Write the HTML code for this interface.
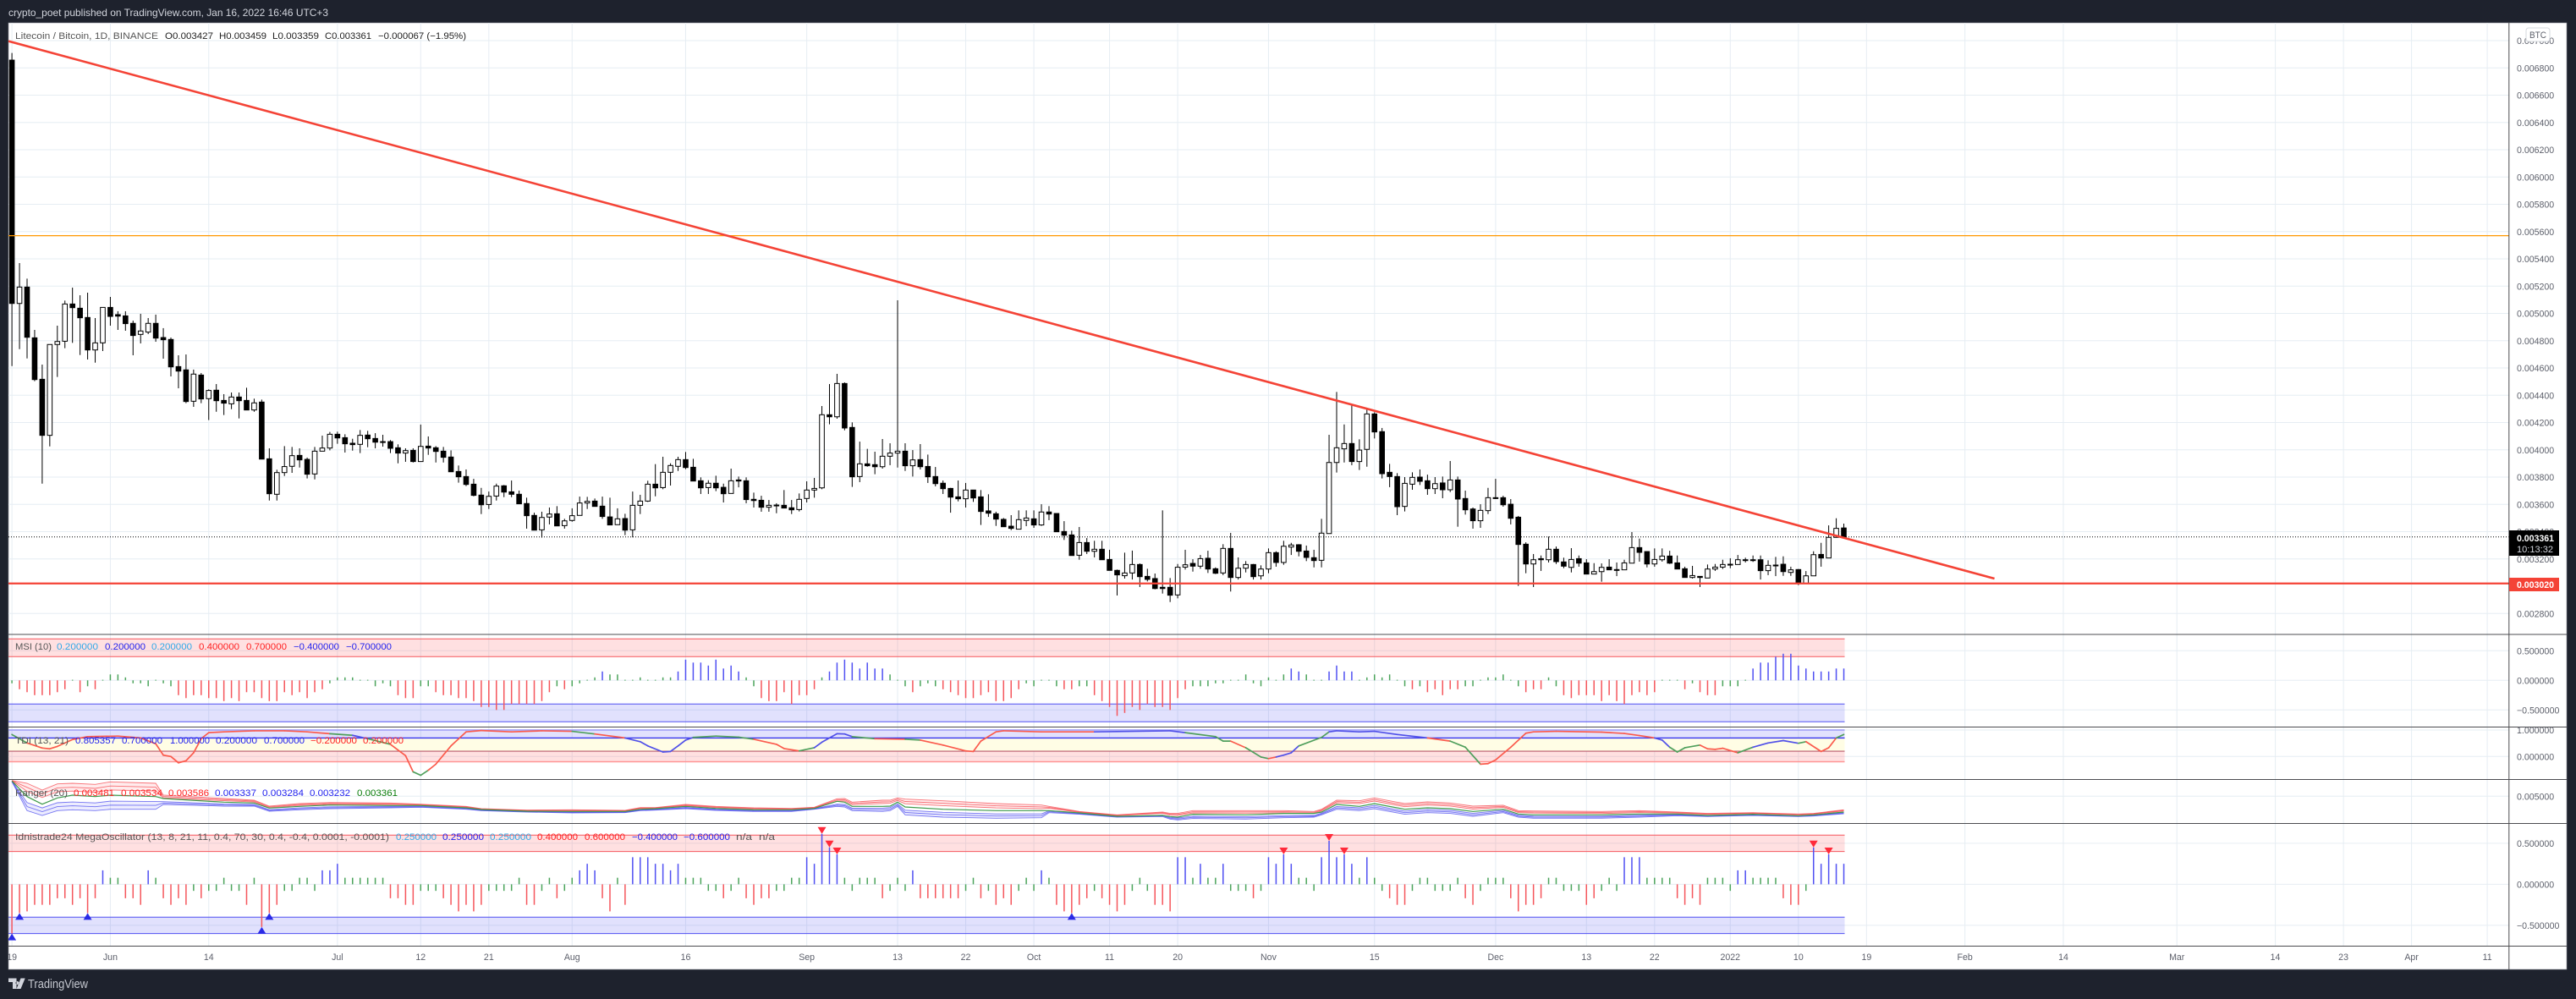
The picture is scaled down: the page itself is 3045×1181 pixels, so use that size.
<!DOCTYPE html>
<html lang="en">
<head>
<meta charset="utf-8">
<title>Litecoin / Bitcoin chart</title>
<style>
html,body{margin:0;padding:0;background:#1e222d;width:3045px;height:1181px;overflow:hidden}
svg{display:block}
text{font-family:"Liberation Sans",sans-serif;font-size:11px}
.axis{font-size:10.6px;fill:#5d606b}
.lg{font-size:11px;fill:#555}
.r{fill:#ff1f1f}.b{fill:#2222ee}.c{fill:#2fa8e8}.g{fill:#0a7d0a}.k{fill:#222}
</style>
</head>
<body>
<svg id="chart" xmlns="http://www.w3.org/2000/svg" width="3045" height="1181" viewBox="0 0 3045 1181">
  <defs>
    <clipPath id="plot"><rect x="10" y="27" width="2956" height="1091"/></clipPath>
    <clipPath id="timeclip"><rect x="10" y="1118" width="2956" height="28"/></clipPath>
  </defs>
  <rect width="3045" height="1181" fill="#1e222d"/>
  <text x="10" y="19" textLength="378" lengthAdjust="spacingAndGlyphs" font-size="12" style="font-size:12px" fill="#d1d4dc">crypto_poet published on TradingView.com, Jan 16, 2022 16:46 UTC+3</text>
  <rect x="10" y="27" width="3024" height="1119" fill="#ffffff" stroke="#8a8d96" stroke-width="0.6"/>
  <g id="grid"></g>
  <g id="plotGroup" clip-path="url(#plot)"></g>
  <g id="frame"></g>
  <g id="axisLabels"></g>

  <g>
    <text class="lg" x="18" y="46" textLength="169" lengthAdjust="spacingAndGlyphs">Litecoin / Bitcoin, 1D, BINANCE</text>
    <text class="lg k" x="195" y="46" textLength="57" lengthAdjust="spacingAndGlyphs">O0.003427</text>
    <text class="lg k" x="259" y="46" textLength="56" lengthAdjust="spacingAndGlyphs">H0.003459</text>
    <text class="lg k" x="322" y="46" textLength="55" lengthAdjust="spacingAndGlyphs">L0.003359</text>
    <text class="lg k" x="384" y="46" textLength="55" lengthAdjust="spacingAndGlyphs">C0.003361</text>
    <text class="lg k" x="447" y="46" textLength="104" lengthAdjust="spacingAndGlyphs">−0.000067 (−1.95%)</text>
  </g>
  <g>
    <text class="lg" x="18" y="768" textLength="43" lengthAdjust="spacingAndGlyphs">MSI (10)</text>
    <text class="lg c" x="67" y="768" textLength="49" lengthAdjust="spacingAndGlyphs">0.200000</text>
    <text class="lg b" x="124" y="768" textLength="48" lengthAdjust="spacingAndGlyphs">0.200000</text>
    <text class="lg c" x="179" y="768" textLength="48" lengthAdjust="spacingAndGlyphs">0.200000</text>
    <text class="lg r" x="235" y="768" textLength="48" lengthAdjust="spacingAndGlyphs">0.400000</text>
    <text class="lg r" x="291" y="768" textLength="48" lengthAdjust="spacingAndGlyphs">0.700000</text>
    <text class="lg b" x="347" y="768" textLength="54" lengthAdjust="spacingAndGlyphs">−0.400000</text>
    <text class="lg b" x="409" y="768" textLength="54" lengthAdjust="spacingAndGlyphs">−0.700000</text>
  </g>
  <g>
    <text class="lg" x="18" y="879" textLength="63" lengthAdjust="spacingAndGlyphs">TDI (13, 21)</text>
    <text class="lg b" x="89" y="879" textLength="48" lengthAdjust="spacingAndGlyphs">0.805357</text>
    <text class="lg b" x="144" y="879" textLength="48" lengthAdjust="spacingAndGlyphs">0.700000</text>
    <text class="lg b" x="201" y="879" textLength="47" lengthAdjust="spacingAndGlyphs">1.000000</text>
    <text class="lg b" x="255" y="879" textLength="49" lengthAdjust="spacingAndGlyphs">0.200000</text>
    <text class="lg b" x="312" y="879" textLength="48" lengthAdjust="spacingAndGlyphs">0.700000</text>
    <text class="lg r" x="367" y="879" textLength="55" lengthAdjust="spacingAndGlyphs">−0.200000</text>
    <text class="lg r" x="429" y="879" textLength="48" lengthAdjust="spacingAndGlyphs">0.200000</text>
  </g>
  <g>
    <text class="lg" x="18" y="941" textLength="62" lengthAdjust="spacingAndGlyphs">Ranger (20)</text>
    <text class="lg r" x="87" y="941" textLength="48" lengthAdjust="spacingAndGlyphs">0.003481</text>
    <text class="lg r" x="143" y="941" textLength="49" lengthAdjust="spacingAndGlyphs">0.003534</text>
    <text class="lg r" x="199" y="941" textLength="48" lengthAdjust="spacingAndGlyphs">0.003586</text>
    <text class="lg b" x="254" y="941" textLength="49" lengthAdjust="spacingAndGlyphs">0.003337</text>
    <text class="lg b" x="310" y="941" textLength="49" lengthAdjust="spacingAndGlyphs">0.003284</text>
    <text class="lg b" x="366" y="941" textLength="48" lengthAdjust="spacingAndGlyphs">0.003232</text>
    <text class="lg g" x="422" y="941" textLength="48" lengthAdjust="spacingAndGlyphs">0.003361</text>
  </g>
  <g>
    <text class="lg" x="18" y="993" textLength="442" lengthAdjust="spacingAndGlyphs">Idnistrade24 MegaOscillator (13, 8, 21, 11, 0.4, 70, 30, 0.4, -0.4, 0.0001, -0.0001)</text>
    <text class="lg c" x="468" y="993" textLength="48" lengthAdjust="spacingAndGlyphs">0.250000</text>
    <text class="lg b" x="523" y="993" textLength="49" lengthAdjust="spacingAndGlyphs">0.250000</text>
    <text class="lg c" x="579" y="993" textLength="49" lengthAdjust="spacingAndGlyphs">0.250000</text>
    <text class="lg r" x="635" y="993" textLength="48" lengthAdjust="spacingAndGlyphs">0.400000</text>
    <text class="lg r" x="691" y="993" textLength="48" lengthAdjust="spacingAndGlyphs">0.600000</text>
    <text class="lg b" x="747" y="993" textLength="54" lengthAdjust="spacingAndGlyphs">−0.400000</text>
    <text class="lg b" x="808" y="993" textLength="55" lengthAdjust="spacingAndGlyphs">−0.600000</text>
    <text class="lg" x="870" y="993" textLength="19" lengthAdjust="spacingAndGlyphs">n/a</text>
    <text class="lg" x="897" y="993" textLength="19" lengthAdjust="spacingAndGlyphs">n/a</text>
  </g>

  <g>
    <rect x="2986" y="33" width="28" height="16" rx="3" fill="#ffffff" stroke="#d6d8de" stroke-width="1"/>
    <text x="2990" y="45" textLength="20" lengthAdjust="spacingAndGlyphs" fill="#5d606b">BTC</text>
  </g>

  <g>
    <rect x="2966" y="627" width="59" height="30" fill="#000000"/>
    <text x="2975" y="640" fill="#ffffff" style="font-size:10.6px;font-weight:bold" textLength="44" lengthAdjust="spacingAndGlyphs">0.003361</text>
    <text x="2975" y="653" fill="#d1d4dc" style="font-size:10.6px" textLength="43" lengthAdjust="spacingAndGlyphs">10:13:32</text>
  </g>
  <g>
    <rect x="2966" y="683" width="59" height="16" fill="#f44336"/>
    <text x="2975" y="695" fill="#ffffff" style="font-size:10.6px;font-weight:bold" textLength="44" lengthAdjust="spacingAndGlyphs">0.003020</text>
  </g>

  <g>
    <path d="M10 1156.500h9.500v12.500h-4.500v-8h-5zM19.500 1169l5-12.500h5.200l-5.200 12.500z M20.500 1160a2 2 0 1 0 0.010 0z" fill="#d1d4dc"/>
    <text x="33" y="1168" textLength="71" lengthAdjust="spacingAndGlyphs" style="font-size:15px" fill="#c4c7cf">TradingView</text>
  </g>
</svg>

<script>
// Time axis
const tickLabels = ["19","Jun","14","Jul","12","21","Aug","16","Sep","13","22","Oct","11","20","Nov","15","Dec","13","22","2022","10","19","Feb","14","Mar","14","23","Apr","11"];
const tickDays = [0,13,26,43,54,63,74,89,105,117,126,135,145,154,166,180,196,208,217,227,236,245,258,271,286,299,308,317,327];
// Price axis ticks (millionths of BTC)
const priceTicks = [7000,6800,6600,6400,6200,6000,5800,5600,5400,5200,5000,4800,4600,4400,4200,4000,3800,3600,3400,3200,2800];
// Candles, millionths of BTC
const opens = [6857,5073,5193,4821,4517,4106,4772,4796,5069,5038,
4970,4732,4784,5044,4991,4982,4927,4846,4863,4927,
4823,4809,4610,4586,4356,4548,4375,4437,4362,4337,
4387,4362,4292,4350,3934,3674,3833,3879,3959,3930,
3823,3990,4013,4114,4089,4048,4040,4108,4083,4060,
4060,4015,3976,3996,3914,4027,4015,3990,3947,3841,
3804,3748,3668,3599,3661,3736,3692,3674,3606,3519,
3413,3507,3531,3444,3482,3519,3610,3624,3587,3508,
3451,3496,3413,3593,3624,3748,3723,3835,3879,3928,
3872,3773,3723,3755,3725,3680,3779,3773,3637,3630,
3579,3595,3593,3575,3562,3643,3705,3721,4257,4242,
4486,4164,3804,3897,3891,3876,3953,3976,3990,3883,
3928,3878,3804,3755,3717,3655,3641,3705,3655,3552,
3531,3490,3440,3418,3482,3494,3449,3544,3533,3401,
3376,3227,3320,3256,3271,3196,3116,3077,3097,3159,
3072,3056,2992,2992,2936,3140,3167,3147,3205,3128,
3097,3277,3064,3132,3159,3076,3126,3246,3174,3287,
3304,3258,3209,3190,3386,3907,4007,4046,3914,4003,
4263,4133,3835,3804,3585,3748,3800,3773,3715,3757,
3707,3779,3643,3566,3480,3554,3649,3649,3601,3506,
3308,3163,3202,3194,3271,3178,3138,3202,3171,3089,
3107,3140,3122,3120,3169,3283,3254,3163,3194,3221,
3171,3128,3064,3072,3060,3126,3140,3161,3159,3194,
3194,3194,3114,3155,3161,3101,3122,3021,3076,3233,
3207,3358,3427];
const closes = [5073,5193,4825,4515,4106,4772,4794,5069,5042,4968,
4732,4784,5044,4978,4980,4925,4838,4871,4927,4819,
4807,4608,4577,4354,4555,4373,4435,4360,4342,4387,
4360,4292,4344,3932,3678,3833,3877,3957,3926,3821,
3990,4013,4114,4087,4044,4038,4106,4081,4056,4054,
4011,3976,3994,3914,4025,4013,3988,3945,3839,3802,
3746,3666,3597,3659,3734,3690,3674,3604,3517,3411,
3504,3529,3442,3479,3517,3610,3622,3585,3511,3449,
3494,3411,3593,3624,3748,3721,3835,3885,3928,3870,
3771,3721,3755,3721,3678,3773,3771,3635,3628,3579,
3593,3591,3573,3560,3637,3705,3717,4257,4242,4486,
4160,3802,3897,3883,3876,3953,3976,3990,3883,3926,
3876,3802,3752,3715,3653,3641,3705,3647,3548,3535,
3492,3436,3424,3488,3500,3449,3544,3529,3399,3374,
3225,3320,3256,3271,3194,3116,3083,3097,3159,3070,
3050,2983,2983,2934,3139,3157,3147,3202,3126,3095,
3277,3064,3132,3159,3070,3126,3246,3174,3293,3302,
3256,3211,3188,3389,3907,4015,4046,3914,3998,4263,
4131,3825,3804,3583,3754,3798,3769,3715,3752,3707,
3779,3639,3560,3480,3556,3649,3645,3597,3498,3306,
3163,3194,3194,3271,3180,3147,3196,3169,3089,3107,
3138,3120,3120,3171,3283,3248,3163,3196,3221,3169,
3126,3064,3078,3064,3126,3140,3159,3159,3194,3192,
3192,3114,3153,3151,3107,3120,3021,3076,3231,3207,
3358,3424,3361];
const highs = [6909,5369,5255,4879,4625,4772,4910,5094,5189,5133,
5152,4966,5044,5121,5016,5016,4947,4997,4966,4991,
4892,4823,4693,4699,4588,4563,4443,4482,4408,4420,
4420,4455,4375,4368,4011,3854,4027,4021,4011,3943,
4021,4104,4131,4133,4114,4081,4145,4139,4122,4110,
4071,4040,4011,4011,4185,4098,4027,4021,3996,3885,
3856,3787,3721,3694,3752,3742,3775,3701,3649,3539,
3546,3577,3587,3494,3571,3657,3655,3643,3657,3649,
3571,3531,3694,3670,3773,3895,3949,3901,3949,3984,
3934,3798,3777,3810,3752,3862,3804,3798,3686,3663,
3632,3608,3705,3632,3680,3769,3794,4321,4482,4557,
4494,4201,4060,4007,3986,4079,4048,5096,4048,3998,
4042,3965,3874,3775,3721,3775,3757,3705,3705,3674,
3546,3500,3521,3556,3556,3556,3601,3587,3533,3477,
3407,3434,3353,3333,3333,3267,3122,3246,3261,3167,
3128,3093,3556,3060,3163,3267,3198,3229,3260,3138,
3308,3391,3211,3184,3163,3153,3277,3256,3333,3318,
3308,3298,3267,3494,4110,4424,4186,4327,4077,4300,
4275,4160,3897,3829,3800,3835,3856,3818,3800,3804,
3918,3804,3701,3577,3601,3721,3787,3663,3639,3515,
3322,3236,3225,3364,3291,3209,3279,3225,3198,3169,
3167,3198,3174,3194,3397,3349,3256,3277,3277,3260,
3225,3143,3149,3074,3159,3163,3194,3205,3229,3209,
3225,3225,3190,3215,3219,3143,3126,3111,3256,3318,
3446,3498,3459];
const lows = [4614,4738,4670,4503,3752,4025,4534,4745,4784,4695,
4662,4639,4724,4910,4879,4873,4693,4780,4848,4792,
4668,4538,4451,4342,4315,4342,4218,4279,4255,4298,
4230,4292,4279,3932,3628,3628,3808,3831,3870,3790,
3783,3990,3996,4044,3980,3994,3976,4019,4011,4023,
3976,3901,3912,3907,3914,3963,3907,3907,3839,3759,
3734,3659,3529,3566,3628,3653,3653,3604,3422,3411,
3356,3453,3442,3422,3473,3519,3566,3585,3494,3449,
3451,3374,3358,3529,3618,3659,3711,3738,3845,3858,
3771,3676,3676,3697,3614,3680,3725,3608,3577,3546,
3546,3535,3573,3529,3548,3614,3649,3711,4187,4228,
4143,3728,3763,3876,3821,3862,3887,3870,3845,3804,
3856,3757,3732,3676,3539,3622,3577,3618,3449,3508,
3442,3436,3411,3418,3440,3428,3442,3484,3399,3339,
3225,3194,3236,3211,3194,3116,2932,3056,3049,2994,
3035,2977,2946,2884,2911,3122,3107,3128,3097,3089,
3081,2961,3049,3101,3049,3049,3095,3143,3157,3229,
3219,3184,3138,3138,3386,3833,3907,3887,3852,3876,
4083,3790,3726,3521,3548,3707,3742,3670,3676,3645,
3690,3436,3525,3422,3428,3529,3639,3583,3453,3002,
3095,2994,3112,3174,3163,3132,3101,3143,3089,3089,
3033,3120,3074,3120,3169,3180,3138,3143,3180,3163,
3126,3064,3056,2994,3060,3112,3126,3132,3159,3174,
3178,3049,3081,3074,3076,3076,3008,3021,3076,3143,
3207,3358,3359];
// Reference levels
const resistanceLevel = 5570;
const supportLevel = 3020;
const lastClose = 3361;
const trendDays = [-0.46, 261.9];
const trendPrices = [6996, 3056];
// MSI histogram
const msiValues = [-.05,-.15,-.2,-.25,-.25,-.25,-.2,-.15,.01,-.2,
-.1,-.15,.01,.1,.1,.05,-.05,-.05,-.1,.01,
-.05,-.1,-.25,-.3,-.25,-.25,-.3,-.3,-.35,-.3,
-.35,-.2,-.2,-.3,-.35,-.35,-.2,-.25,-.2,-.3,
-.2,-.15,-.05,.05,.05,.05,.01,.01,-.1,-.05,
-.1,-.25,-.3,-.3,-.1,-.1,-.2,-.25,-.25,-.3,
-.3,-.35,-.45,-.45,-.5,-.5,-.4,-.4,-.4,-.4,
-.35,-.2,-.1,-.15,-.1,-.05,.01,.05,.15,.1,
.1,.01,.01,.05,.01,.01,.05,.05,.15,.35,
.3,.3,.25,.35,.2,.25,.15,.05,-.1,-.3,
-.35,-.35,-.2,-.4,-.25,-.25,-.15,.05,.15,.3,
.35,.3,.2,.3,.2,.2,.1,.01,-.1,-.2,
-.1,-.05,-.1,-.15,-.2,-.25,-.3,-.3,-.25,-.2,
-.35,-.35,-.3,-.15,-.05,-.1,.01,.01,-.1,-.15,
-.15,-.1,-.1,-.25,-.35,-.45,-.6,-.55,-.45,-.5,
-.4,-.45,-.45,-.5,-.3,-.15,-.1,-.1,-.1,-.05,
-.05,.01,.01,.1,-.05,-.1,.05,.01,.1,.2,
.15,.1,.01,.01,.15,.25,.15,.15,.01,.05,
.1,.05,.1,.01,-.1,-.15,-.1,-.2,-.15,-.25,
-.15,-.15,-.1,-.1,.01,.05,.05,.1,.01,-.1,
-.2,-.15,-.15,.05,-.1,-.25,-.3,-.25,-.25,-.25,
-.35,-.25,-.35,-.4,-.25,-.2,-.25,-.2,.01,.01,
.01,-.15,-.05,-.2,-.25,-.25,-.1,-.1,-.1,.01,
.2,.3,.3,.4,.45,.45,.25,.2,.15,.15,
.15,.2,.2];
// Mega oscillator histogram
const megaValues = [-.6,-.35,-.33,-.25,-.25,-.25,-.17,-.17,-.25,-.17,
-.35,-.17,.17,.08,.08,-.17,-.17,-.25,.17,.08,
-.17,-.25,-.17,-.25,-.08,-.17,-.08,-.08,.08,-.08,
-.08,-.25,.08,-.52,-.35,-.25,-.08,-.08,.08,.08,
-.08,.17,.17,.25,.08,.08,.08,.08,.08,.08,
-.17,-.17,-.25,-.25,-.08,-.08,-.08,-.17,-.25,-.33,
-.25,-.33,-.25,-.08,-.08,-.08,-.08,.08,-.25,-.25,
-.08,.08,-.17,-.08,.08,.17,.25,.17,-.17,-.33,
.08,-.25,.33,.33,.33,.25,.25,.17,.25,.08,
.08,.08,-.08,-.08,-.17,-.08,.08,-.17,-.25,-.17,
-.17,-.08,-.08,.08,.08,.33,.25,.615,.45,.365,
.08,-.08,.08,.08,.08,-.17,-.08,.08,-.08,.17,
-.17,-.17,-.17,-.17,-.17,-.17,-.08,.08,-.17,-.08,
-.25,-.17,-.25,-.08,.08,-.08,.17,.08,-.25,-.33,
-.35,-.25,-.17,-.08,-.17,-.25,-.33,-.25,-.08,.08,
-.08,-.25,-.25,-.33,.33,.33,.08,.25,.08,.08,
.25,-.08,-.08,-.08,-.17,-.08,.33,.25,.365,.25,
.08,.08,-.08,.33,.53,.33,.365,.25,.08,.33,
.08,-.08,-.17,-.25,-.25,-.08,.08,.08,-.08,-.08,
-.08,.08,-.17,-.25,-.08,.08,.08,.08,-.17,-.33,
-.25,-.25,-.17,.08,.08,-.08,-.08,-.08,-.25,-.17,
-.08,.08,-.08,.33,.33,.33,.08,.08,.08,.08,
-.17,-.25,-.17,-.25,.08,.08,.08,-.08,.17,.17,
.08,.08,.08,.08,-.17,-.25,-.25,-.08,.45,.25,
.365,.25,.25];
const buySignalDays = [0,1,10,33,34,140];
const sellSignalDays = [107,108,109,168,174,176,238,240];
// TDI line, read at turning points
const tdiDays = [0,2,4,5,6,8,10,14,17,19,20,21,22,23,24,25,26,28,32,36,39,42,45,47,50,52,53,54,55,56,58,60,62,66,70,74,77,81,83,84,86,87,88,89,90,93,96,98,101,102,104,106,107,109,110,111,114,118,120,123,126,127,128,130,131,136,143,153,155,159,160,161,163,165,166,167,168,169,170,173,174,175,178,180,183,187,190,192,194,195,196,198,200,201,204,210,213,215,217,218,219,220,221,223,224,225,226,228,230,232,234,236,237,239,240,241,242];
const tdiValues = [.83,.51,.32,.29,.38,.64,.75,.77,.70,.48,.05,0,-.24,-.16,.14,.67,.90,.93,.97,.97,.93,.86,.80,.67,.46,.03,-.58,-.71,-.52,-.29,.40,.93,.98,.93,.97,.95,.85,.70,.56,.40,.17,.19,.40,.62,.72,.77,.73,.65,.46,.30,.21,.33,.54,.86,.85,.75,.67,.65,.62,.43,.21,.19,.58,.93,.97,.93,.93,.97,.90,.75,.58,.58,.33,-.02,-.08,-.02,.05,.14,.40,.72,.93,.97,.93,.95,.83,.70,.58,.35,-.29,-.27,-.13,.35,.88,.93,.95,.92,.87,.79,.70,.62,.35,.17,.33,.43,.29,.27,.31,.14,.35,.51,.60,.50,.56,.19,.33,.70,.83];
const tdiTrend = "grrrrrrrrrrrrrrrrrrrrgbgrrggrrrrrrrgrbbbbbbbgggrrrgbbbbgrgrrrrrrrrbbgggrggrbbbggbbbbbrggrrrrrrrrrrbbgggrrrrgbbbgrrrgbbbb";
// Ranger bands, millionths of BTC, read at turning points
const rangerDays = [0,2,4,6,8,11,13,19,20,28,32,34,38,42,50,54,60,62,68,74,81,83,85,89,93,98,103,106,109,110,111,115,116,117,118,123,130,136,137,141,146,152,153,154,156,163,168,172,173,175,178,180,184,187,190,193,197,199,201,210,215,220,224,230,236,238,242];
const rangerUpper = [6641,6348,5644,6289,6348,6231,6495,6348,5116,4764,4588,3969,4236,4353,4295,4177,3943,3708,3561,3591,3532,3825,3825,4148,3943,3796,3737,3855,4734,4764,4383,4588,4588,4823,4705,4529,4236,4089,3943,3415,3063,3356,3210,3210,3503,3503,3503,3415,3649,4588,4529,4823,4236,4412,4295,3969,4060,3503,3473,3415,3503,3356,3210,3297,3151,3210,3591];
const rangerLower = [6524,3503,3004,3503,3591,3503,3649,3649,4148,3969,3969,3444,3591,3708,3796,3855,3649,3503,3356,3268,3297,3503,3561,3708,3532,3415,3415,3649,3943,3885,3503,3415,3503,3943,3063,2828,2711,2769,3297,3122,2828,2887,2623,2535,2682,2623,2769,2828,3063,3649,3503,3708,3122,3297,3210,2917,3297,2828,2711,2711,2828,2975,2887,3004,2887,2945,3180];
const rangerMiddle = [6582,4969,4177,4823,5116,4969,5116,4969,4764,4383,4295,3767,3943,4089,4030,4030,3796,3620,3444,3415,3415,3649,3708,3943,3737,3591,3591,3737,4471,4383,3943,3943,3969,4383,3885,3649,3503,3503,3503,3268,2917,3004,2887,2828,3122,3063,3210,3210,3356,4148,3943,4236,3649,3796,3708,3415,3649,3151,3063,3063,3151,3151,3004,3122,2975,3063,3356];
const rangerOffsets = [0.41, 0.7, 1];

const NS = "http://www.w3.org/2000/svg";
const X0 = 14.1, PITCH = 8.948;
const PLOT_L = 10, PLOT_R = 2966, RIGHT = 3034;
const grid = document.getElementById("grid");
const plot = document.getElementById("plotGroup");
const frame = document.getElementById("frame");
const axisLabels = document.getElementById("axisLabels");

function xDay(d){ return X0 + PITCH * d; }
function yPrice(p){ return 48 + (7000 - p) * 0.16125; }
function yMsi(v){ return 804.3 - 70 * v; }
function yTdi(v){ return 894.3 - 31.3 * v; }
function yRanger(p){ return 941.3 + (5000 - p) * 0.011364; }
function yMega(v){ return 1045.4 - 97 * v; }
function fmt(p){ return (p / 1e6).toFixed(6); }
function mk(tag, attrs, parent){
  const n = document.createElementNS(NS, tag);
  for (const k in attrs) n.setAttribute(k, attrs[k]);
  parent.appendChild(n);
  return n;
}
const BAND_R = xDay(closes.length - 1) + 1;
const RED = "#f5565c", BLUE = "#5050f2", GREEN = "#4ca45c";
const GRID = "#e6edf3";

// vertical grid and time labels
tickDays.forEach(function(d, i){
  const l = mk("line", {x1:xDay(d), x2:xDay(d), y1:27, y2:1118, stroke:GRID, "stroke-width":1}, grid);
  
  
  const t = mk("text", {x:xDay(d), y:1135, "text-anchor":"middle", class:"axis", "clip-path":"url(#timeclip)"}, axisLabels);
  
  
  t.textContent = tickLabels[i];
});
// horizontal grid and price labels
priceTicks.forEach(function(p){
  const l = mk("line", {x1:PLOT_L, x2:PLOT_R, y1:yPrice(p), y2:yPrice(p), stroke:GRID, "stroke-width":1}, grid);
  
  
  const t = mk("text", {x:2975, y:yPrice(p) + 4, class:"axis"}, axisLabels);
  
  
  t.textContent = fmt(p);
});
// sub-pane ticks
const msiTicks = [0.5, 0, -0.5];
const tdiTicks = [1, 0];
const rangerTicks = [5000];
const megaTicks = [0.5, 0, -0.5];
function paneTick(y, label){
  const l = mk("line", {x1:PLOT_L, x2:PLOT_R, y1:y, y2:y, stroke:GRID, "stroke-width":1}, grid);
  
  
  const t = mk("text", {x:2975, y:y + 4, class:"axis"}, axisLabels);
  
  
  t.textContent = label;
}
msiTicks.forEach(function(v){ paneTick(yMsi(v), v.toFixed(6).replace("-", "−")); });
tdiTicks.forEach(function(v){ paneTick(yTdi(v), v.toFixed(6)); });
rangerTicks.forEach(function(p){ paneTick(yRanger(p), fmt(p)); });
megaTicks.forEach(function(v){ paneTick(yMega(v), v.toFixed(6).replace("-", "−")); });

// bands
function band(yA, yB, fill, name){
  const r = mk("rect", {x:PLOT_L, width:BAND_R - PLOT_L, y:Math.min(yA,yB), height:Math.abs(yB-yA), fill:fill}, plot);
  
  
}
function level(y, color, width, name){
  const l = mk("line", {x1:PLOT_L, x2:BAND_R, y1:y, y2:y, stroke:color, "stroke-width":width}, plot);
  
  
}
const RFILL = "rgba(255,70,80,0.17)", BFILL = "rgba(70,70,245,0.16)";
band(yMsi(.7), yMsi(.4), RFILL, "msi-overbought-band");
band(yMsi(-.4), yMsi(-.7), BFILL, "msi-oversold-band");
level(yMsi(.7), RED, 1, "msi-level");
level(yMsi(.4), RED, 1, "msi-level");
level(yMsi(-.4), BLUE, 1, "msi-level");
level(yMsi(-.7), BLUE, 1, "msi-level");
band(yTdi(1), yTdi(.7), BFILL, "tdi-upper-band");
band(yTdi(.7), yTdi(.2), "#fffde5", "tdi-middle-band");
band(yTdi(.2), yTdi(-.2), RFILL, "tdi-lower-band");
level(yTdi(1), "#9a9af5", 1.5, "tdi-level");
level(yTdi(.7), "#3434ee", 1.4, "tdi-level");
level(yTdi(.2), "#b75a6c", 1.2, "tdi-level");
level(yTdi(-.2), "#ff9494", 1.5, "tdi-level");
band(yMega(.6), yMega(.4), RFILL, "mega-overbought-band");
band(yMega(-.4), yMega(-.6), BFILL, "mega-oversold-band");
level(yMega(.6), RED, 1, "mega-level");
level(yMega(.4), RED, 1, "mega-level");
level(yMega(-.4), BLUE, 1, "mega-level");
level(yMega(-.6), BLUE, 1, "mega-level");

// candles
opens.forEach(function(o, i){
  const c = closes[i], x = xDay(i);
  const down = c < o;
  const wick = mk("line", {x1:x, x2:x, y1:yPrice(highs[i]), y2:yPrice(lows[i]), stroke:"#000", "stroke-width":1}, plot);
  
  
  const top = yPrice(Math.max(o, c)), bot = yPrice(Math.min(o, c));
  const body = mk("rect", {x:x - 2.8, y:top, width:5.6, height:Math.max(bot - top, 1), fill:down ? "#000" : "#fff", stroke:"#000", "stroke-width":1}, plot);
  
  
});

// price level lines
const resistanceLine = mk("line", {x1:PLOT_L, x2:PLOT_R, y1:yPrice(resistanceLevel), y2:yPrice(resistanceLevel), stroke:"#ff9800", "stroke-width":1.2}, plot);


const lastLine = mk("line", {x1:PLOT_L, x2:PLOT_R, y1:yPrice(lastClose), y2:yPrice(lastClose), stroke:"#000", "stroke-width":1, "stroke-dasharray":"1 2"}, plot);


const supportLine = mk("line", {x1:PLOT_L, x2:PLOT_R, y1:yPrice(supportLevel), y2:yPrice(supportLevel), stroke:"#f44336", "stroke-width":2.2}, plot);


const trendLine = mk("line", {x1:xDay(trendDays[0]), x2:xDay(trendDays[1]), y1:yPrice(trendPrices[0]), y2:yPrice(trendPrices[1]), stroke:"#f44336", "stroke-width":2.6}, plot);



// histograms
function barColor(v){ return v >= 0.15 ? BLUE : (v <= -0.15 ? RED : GREEN); }
msiValues.forEach(function(v, i){
  const a = yMsi(0), b = yMsi(v);
  const r = mk("rect", {x:xDay(i) - 0.75, width:1.5, y:Math.min(a,b), height:Math.max(Math.abs(b-a), 1), fill:barColor(v)}, plot);
  
  
});
megaValues.forEach(function(v, i){
  const a = yMega(0), b = yMega(v);
  const r = mk("rect", {x:xDay(i) - 0.75, width:1.5, y:Math.min(a,b), height:Math.abs(b-a), fill:barColor(v)}, plot);
  
  
});
buySignalDays.forEach(function(d){
  const x = xDay(d), y = yMega(megaValues[d]);
  const p = mk("path", {d:"M" + x + " " + y + "l5 8h-10z", fill:"#2a2ae6"}, plot);
  
  
});
sellSignalDays.forEach(function(d){
  const x = xDay(d), y = yMega(megaValues[d]);
  const p = mk("path", {d:"M" + x + " " + y + "l5 -8h-10z", fill:"#ff2a3a"}, plot);
  
  
});

// TDI line
const tdiPalette = {r:"#fb5a4c", b:"#5050e8", g:"#4f9f5c"};
for (let i = 0; i < tdiDays.length - 1; i++){
  const s = mk("line", {x1:xDay(tdiDays[i]), y1:yTdi(tdiValues[i]), x2:xDay(tdiDays[i+1]), y2:yTdi(tdiValues[i+1]), stroke:tdiPalette[tdiTrend[i]] || tdiPalette.r, "stroke-width":1.7, "stroke-linecap":"round"}, plot);
  
  
}

// Ranger bands
function rangerLine(sign, off){
  return rangerDays.map(function(d, i){
    const mid = (rangerUpper[i] + rangerLower[i]) / 2;
    const half = (rangerUpper[i] - rangerLower[i]) / 2;
    return xDay(d).toFixed(1) + "," + yRanger(mid + sign * off * half).toFixed(1);
  });
}
const upperFill = mk("polygon", {points:rangerLine(1, 1).concat(rangerLine(1, rangerOffsets[0]).reverse()).join(" "), fill:"rgba(255,70,80,0.10)"}, plot);


const lowerFill = mk("polygon", {points:rangerLine(-1, 1).concat(rangerLine(-1, rangerOffsets[0]).reverse()).join(" "), fill:"rgba(70,70,245,0.10)"}, plot);


rangerOffsets.forEach(function(off){
  const up = mk("polyline", {points:rangerLine(1, off).join(" "), fill:"none", stroke:"#f5454c", "stroke-opacity":0.75, "stroke-width":0.9}, plot);
  
  
  const dn = mk("polyline", {points:rangerLine(-1, off).join(" "), fill:"none", stroke:"#4a4aee", "stroke-opacity":0.75, "stroke-width":0.9}, plot);
  
  
});
const rangerMid = mk("polyline", {points:rangerDays.map(function(d, i){ return xDay(d).toFixed(1) + "," + yRanger(rangerMiddle[i]).toFixed(1); }).join(" "), fill:"none", stroke:"#3f9a4c", "stroke-width":1.2}, plot);



// pane dividers and axis line
const dividerYs = [750, 859.5, 921.5, 973.5, 1118.5];
dividerYs.forEach(function(y){
  const l = mk("line", {x1:PLOT_L, x2:RIGHT, y1:y, y2:y, stroke:"#4c4c50", "stroke-width":1}, frame);
  
  
});
const axisLine = mk("line", {x1:2965.8, x2:2965.8, y1:27, y2:1146, stroke:"#4c4c50", "stroke-width":1}, frame);


</script>
</body>
</html>
